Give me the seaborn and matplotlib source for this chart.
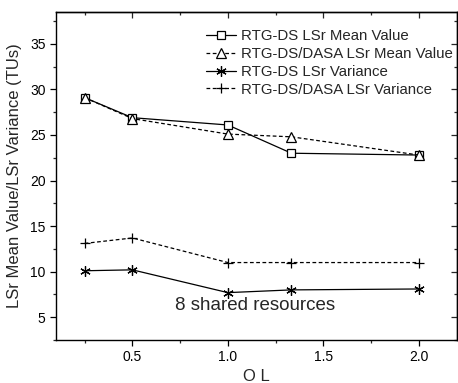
import matplotlib
matplotlib.use("Agg")
import matplotlib.pyplot as plt
import seaborn as sns
import numpy as np
from matplotlib.ticker import MultipleLocator, NullFormatter

sns.set_theme(style="ticks")
plt.rcParams['font.family'] = ['Liberation Sans', 'DejaVu Sans']

ol = [0.25, 0.5, 1.0, 1.333, 2.0]
rtg_mean = [29.1, 26.9, 26.1, 23.0, 22.8]
dasa_mean = [29.1, 26.8, 25.1, 24.8, 22.8]
rtg_var = [10.1, 10.2, 7.7, 8.0, 8.1]
dasa_var = [13.1, 13.7, 11.0, 11.0, 11.0]
labels = ["RTG-DS LSr Mean Value", "RTG-DS/DASA LSr Mean Value",
          "RTG-DS LSr Variance", "RTG-DS/DASA LSr Variance"]

fig = plt.figure(figsize=(4.58, 3.83), dpi=100)
ax = fig.add_axes([56/458, 43/383, 401/458, 328/383])

series = [rtg_mean, dasa_mean, rtg_var, dasa_var]
markers = ['s', '^', (6, 2, 0), '+']
styles = ['-', (0, (3, 2)), '-', (0, (3, 2))]
msizes = [5.5, 7, 7.5, 7.5]
for y, lab, m, ls, ms in zip(series, labels, markers, styles, msizes):
    sns.lineplot(x=ol, y=y, ax=ax, color='black', linewidth=0.9, linestyle=ls,
                 marker=m, markersize=ms, markerfacecolor='white',
                 markeredgecolor='black', markeredgewidth=0.9, label=lab)

ax.set_xlim(0.1, 2.2)
ax.set_ylim(2.5, 38.5)
ax.set_xticks([0.5, 1.0, 1.5, 2.0])
ax.set_xticklabels(['0.5', '1.0', '1.5', '2.0'])
ax.set_yticks([5, 10, 15, 20, 25, 30, 35])
ax.xaxis.set_minor_locator(MultipleLocator(0.25))
ax.yaxis.set_minor_locator(MultipleLocator(2.5))

ax.tick_params(axis='both', which='major', direction='out', length=4.5, width=0.9,
               labelsize=10, colors='black', pad=3, top=False, right=False)
ax.tick_params(axis='both', which='minor', direction='out', length=2.5, width=0.9,
               top=False, right=False)
for side in ['top', 'right', 'left', 'bottom']:
    ax.spines[side].set_visible(True)
    ax.spines[side].set_color('black')
    ax.spines[side].set_linewidth(1.0)

# mirrored inward ticks on top and right
secx = ax.secondary_xaxis('top')
secx.set_xticks([0.5, 1.0, 1.5, 2.0])
secx.xaxis.set_minor_locator(MultipleLocator(0.25))
secx.xaxis.set_major_formatter(NullFormatter())
secx.tick_params(which='major', direction='in', length=4.5, width=0.9)
secx.tick_params(which='minor', direction='in', length=2.5, width=0.9)
secx.spines['top'].set_linewidth(1.0)
secy = ax.secondary_yaxis('right')
secy.set_yticks([5, 10, 15, 20, 25, 30, 35])
secy.yaxis.set_minor_locator(MultipleLocator(2.5))
secy.yaxis.set_major_formatter(NullFormatter())
secy.tick_params(which='major', direction='in', length=4.5, width=0.9)
secy.tick_params(which='minor', direction='in', length=2.5, width=0.9)
secy.spines['right'].set_linewidth(1.0)

ax.set_xlabel("O L", fontsize=12, labelpad=3)
ax.set_ylabel("LSr Mean Value/LSr Variance (TUs)", fontsize=12, labelpad=6)

ax.text(1.14, 6.3, "8 shared resources", fontsize=13.5, ha='center', va='center')

leg = ax.legend(loc='upper right', bbox_to_anchor=(1.008, 0.97), frameon=False,
                fontsize=10.8, handlelength=2.0, handletextpad=0.3,
                labelspacing=0.25, borderaxespad=0.1)

fig.savefig("out.png", dpi=100)
